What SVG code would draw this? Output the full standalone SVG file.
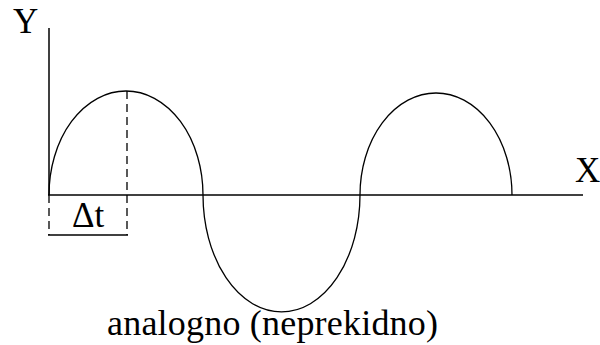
<svg xmlns="http://www.w3.org/2000/svg" width="600" height="345" viewBox="0 0 600 345">
<style>
.ln{fill:none;stroke:#000;stroke-width:1.5}
.cv{fill:none;stroke:#000;stroke-width:1.3}
.dash{fill:none;stroke:#000;stroke-width:1.3;stroke-dasharray:8 5}
.t{font-family:'Liberation Serif','Times New Roman','DejaVu Serif',serif;font-size:35px;fill:#000}
.cap{font-size:36px}
</style>
<rect width="600" height="345" fill="#fff"/>
<g id="axes">
<line class="ln" x1="49" y1="28" x2="49" y2="195"/>
<line class="ln" x1="48" y1="195" x2="583" y2="195"/>
<text class="t" x="13" y="33">Y</text>
<text class="t" x="575" y="182">X</text>
</g>
<g id="wave">
<path class="cv" d="M49 195 A77 104 0 0 1 203 195 A78.5 117 0 0 0 360 195 A76 102 0 0 1 512 195"/>
</g>
<g id="delta-t">
<line class="dash" x1="127" y1="91" x2="127" y2="235"/>
<line class="dash" x1="49" y1="195" x2="49" y2="235"/>
<line class="ln" x1="48" y1="235" x2="128" y2="235"/>
<text class="t" x="72" y="227">Δt</text>
</g>
<g id="caption">
<text class="t cap" x="107" y="335" textLength="331" lengthAdjust="spacing">analogno (neprekidno)</text>
</g>
</svg>
